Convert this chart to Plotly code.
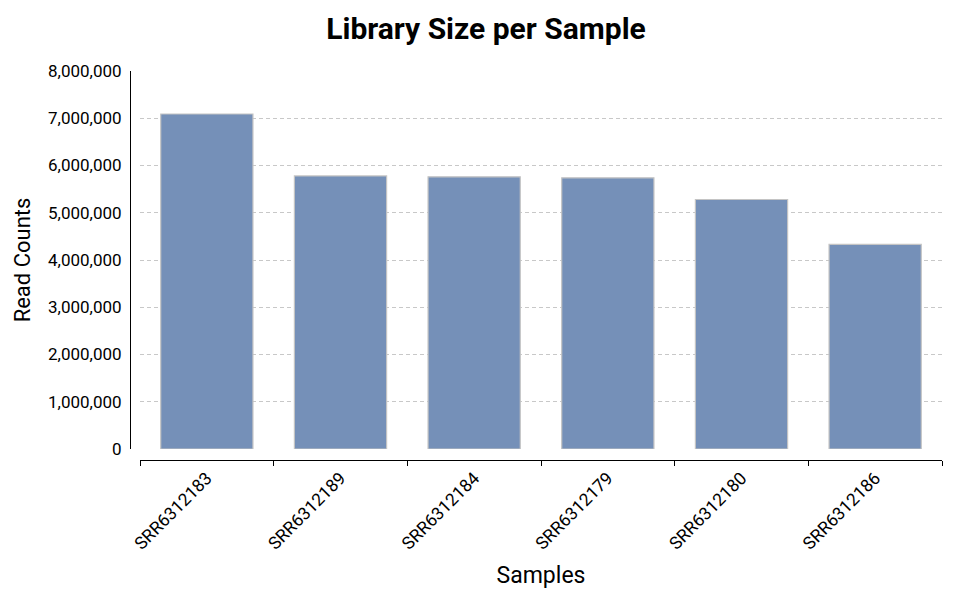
import plotly.graph_objects as go

samples = ["SRR6312183", "SRR6312189", "SRR6312184", "SRR6312179", "SRR6312180", "SRR6312186"]
read_counts = [7090000, 5780000, 5760000, 5740000, 5280000, 4330000]
y_ticks = [0, 1000000, 2000000, 3000000, 4000000, 5000000, 6000000, 7000000, 8000000]

fig = go.Figure()
fig.add_trace(go.Bar(
    x=samples, y=read_counts,
    marker=dict(color="#7590b8", line=dict(color="#c4c4c4", width=1.2)),
))

FONT = "Roboto"
# page has an 8px body margin, so the figure is sized 956x581
fig.update_layout(
    width=956, height=581,
    paper_bgcolor="white", plot_bgcolor="white",
    margin=dict(l=122, r=22, t=63, b=129),
    bargap=0.31,
    showlegend=False,
    font=dict(family=FONT, color="black"),
    title=dict(text="<b>Library Size per Sample</b>", x=0.5, xanchor="center",
               y=1 - 20/581, yanchor="middle", font=dict(family=FONT, size=30, color="black")),
    xaxis=dict(
        domain=[10/812, 1], anchor="free", position=0, automargin=False,
        showline=True, linecolor="black", linewidth=1,
        ticks="outside", ticklen=5, tickcolor="black", tickson="boundaries",
        tickangle=-45, tickfont=dict(size=17.5, family=FONT),
        title=dict(text="Samples", font=dict(size=23, family=FONT), standoff=17),
        showgrid=False,
    ),
    yaxis=dict(
        domain=[11/389, 1], anchor="free", position=0, automargin=False,
        range=[0, 8000000], tickvals=y_ticks, tickformat=",d",
        showline=True, linecolor="black", linewidth=1,
        ticks="", tickfont=dict(size=17, family=FONT), ticklabelstandoff=5,
        showgrid=True, gridcolor="#c8c8c8", griddash="4px,3px", gridwidth=1,
        zeroline=False,
        title=dict(text="Read Counts", font=dict(size=22, family=FONT), standoff=10),
    ),
)

fig.write_html("out.html")
